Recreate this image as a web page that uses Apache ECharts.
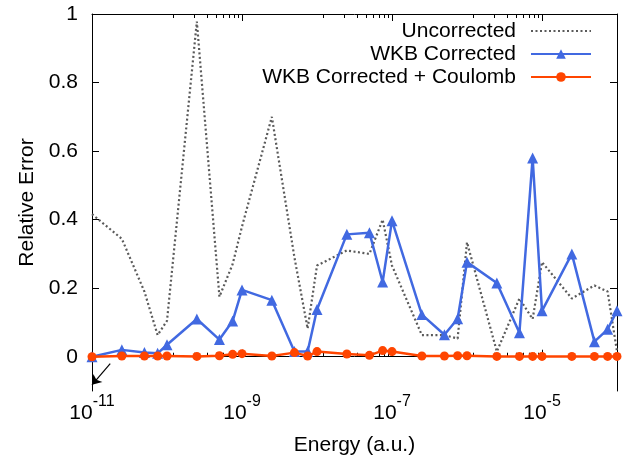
<!DOCTYPE html>
<html>
<head>
<meta charset="utf-8">
<script src="https://cdn.jsdelivr.net/npm/echarts@6/dist/echarts.min.js"></script>
<style>
  html, body { margin: 0; padding: 0; background: #fff; }
  #main { width: 626px; height: 461px; }
</style>
</head>
<body>
<div id="main"></div>
<script>
// 能量点 (a.u.)
var energy = [1e-11, 2.5e-11, 5e-11, 7.5e-11, 1e-10, 2.5e-10, 5e-10, 7.5e-10,
  1e-9, 2.5e-9, 5e-9, 7.5e-9, 1e-8, 2.5e-8, 5e-8, 7.5e-8,
  1e-7, 2.5e-7, 5e-7, 7.5e-7, 1e-6, 2.5e-6, 5e-6, 7.5e-6,
  1e-5, 2.5e-5, 5e-5, 7.5e-5, 1e-4];

var uncorrected = [0.416, 0.344, 0.19, 0.063, 0.105, 0.978, 0.175, 0.27,
  0.38, 0.70, 0.29, 0.082, 0.266, 0.31, 0.30, 0.40,
  0.266, 0.063, 0.063, 0.053, 0.334, 0.015, 0.17, 0.11,
  0.276, 0.17, 0.208, 0.19, 0.015];

var wkb = [0.0, 0.02, 0.012, 0.01, 0.035, 0.11, 0.05, 0.104,
  0.195, 0.165, 0.015, 0.015, 0.138, 0.357, 0.362, 0.218,
  0.397, 0.123, 0.064, 0.111, 0.276, 0.215, 0.07, 0.58,
  0.134, 0.30, 0.044, 0.08, 0.134];

var wkbCoulomb = [0.0, 0.002, 0.002, 0.002, 0.002, 0.001, 0.003, 0.007,
  0.009, 0.002, 0.012, 0.002, 0.015, 0.008, 0.004, 0.018,
  0.015, 0.002, 0.002, 0.003, 0.003, 0.001, 0.001, 0.001,
  0.001, 0.001, 0.001, 0.001, 0.001];

var xMajorTicks = [1e-11, 1e-9, 1e-7, 1e-5];
var yTicks = [0, 0.2, 0.4, 0.6, 0.8, 1];
var seriesNames = ['Uncorrected', 'WKB Corrected', 'WKB Corrected + Coulomb'];

// gnuplot 风格的次刻度: 每两个数量级之间分 9 段
var xMinorTicks = [];
xMajorTicks.forEach(function (a) {
  for (var k = 1; k <= 8; k++) {
    var v = a * (1 + 11 * k);
    if (v < 1e-4) xMinorTicks.push(v);
  }
});

function pairs(ys) {
  return energy.map(function (e, i) { return [e, ys[i]]; });
}

var FONT = 'Liberation Sans, Arial, sans-serif';
var chart = echarts.init(document.getElementById('main'));

function logAxis(opt) {
  return Object.assign({
    type: 'log',
    logBase: 10,
    min: 1e-11,
    max: 1e-4,
    splitLine: { show: false },
    axisLine: { show: false },
    axisLabel: { show: false },
    axisTick: { show: false }
  }, opt);
}

var option = {
  animation: false,
  grid: { left: 92, right: 9, top: 14, bottom: 69, show: false },
  legend: {
    data: [
      { name: seriesNames[0], itemStyle: { color: 'rgba(0,0,0,0)', opacity: 0, borderWidth: 0 } },
      seriesNames[1],
      seriesNames[2]
    ],
    orient: 'vertical',
    align: 'right',
    right: 34,
    top: 20,
    itemWidth: 60,
    itemHeight: 12,
    itemGap: 1,
    padding: 0,
    textStyle: { fontSize: 21, lineHeight: 22, color: '#000', fontFamily: FONT, padding: [0, 10, 0, 0] }
  },
  xAxis: [
    logAxis({
      position: 'bottom',
      name: 'Energy (a.u.)',
      nameLocation: 'middle',
      nameGap: 44,
      nameTextStyle: { fontSize: 21, color: '#000', fontFamily: FONT },
      axisLine: { show: true, lineStyle: { color: '#000', width: 1 } },
      axisTick: { show: true, inside: true, length: 7, customValues: xMajorTicks, lineStyle: { color: '#000', width: 1 } },
      axisLabel: {
        show: true,
        margin: 3,
        customValues: xMajorTicks,
        formatter: function (v) {
          return '{b|10}{s|' + Math.round(Math.log10(v)) + '}';
        },
        rich: {
          b: { fontSize: 21, lineHeight: 30, verticalAlign: 'bottom', color: '#000', fontFamily: FONT },
          s: { fontSize: 16, lineHeight: 30, verticalAlign: 'top', color: '#000', fontFamily: FONT }
        }
      }
    }),
    logAxis({
      position: 'bottom',
      axisTick: { show: true, inside: true, length: 4, customValues: xMinorTicks, lineStyle: { color: '#000', width: 1 } }
    }),
    logAxis({
      position: 'top',
      axisLine: { show: true, lineStyle: { color: '#000', width: 1 } },
      axisTick: { show: true, inside: true, length: 7, customValues: xMajorTicks, lineStyle: { color: '#000', width: 1 } }
    }),
    logAxis({
      position: 'top',
      axisTick: { show: true, inside: true, length: 4, customValues: xMinorTicks, lineStyle: { color: '#000', width: 1 } }
    })
  ],
  yAxis: [
    {
      type: 'value',
      position: 'left',
      min: -0.1,
      max: 1,
      name: 'Relative Error',
      nameLocation: 'middle',
      nameGap: 49,
      nameTextStyle: { fontSize: 21, color: '#000', fontFamily: FONT },
      splitLine: { show: false },
      axisLine: { show: true, lineStyle: { color: '#000', width: 1 } },
      axisTick: { show: true, inside: true, length: 7, customValues: yTicks, lineStyle: { color: '#000', width: 1 } },
      axisLabel: {
        margin: 14,
        customValues: yTicks,
        fontSize: 21,
        color: '#000',
        fontFamily: FONT,
        formatter: function (v) { return String(Math.round(v * 10) / 10); }
      }
    },
    {
      type: 'value',
      position: 'right',
      min: -0.1,
      max: 1,
      splitLine: { show: false },
      axisLine: { show: true, lineStyle: { color: '#000', width: 1 } },
      axisTick: { show: true, inside: true, length: 7, customValues: yTicks, lineStyle: { color: '#000', width: 1 } },
      axisLabel: { show: false }
    }
  ],
  series: [
    {
      name: seriesNames[0],
      type: 'line',
      data: pairs(uncorrected),
      symbol: 'none',
      lineStyle: { color: '#5a5a5a', width: 2.2, type: [2, 2.5] },
      itemStyle: { color: '#5a5a5a' },
      z: 2
    },
    {
      name: seriesNames[1],
      type: 'line',
      data: pairs(wkb),
      symbol: 'triangle',
      symbolSize: 11,
      lineStyle: { color: '#4169E1', width: 2.5 },
      itemStyle: { color: '#4169E1' },
      z: 3
    },
    {
      name: seriesNames[2],
      type: 'line',
      data: pairs(wkbCoulomb),
      symbol: 'circle',
      symbolSize: 9,
      lineStyle: { color: '#FF4500', width: 2.5 },
      itemStyle: { color: '#FF4500' },
      z: 4,
      markLine: {
        silent: true,
        symbol: ['none', 'arrow'],
        symbolSize: 9,
        label: { show: false },
        lineStyle: { color: '#000', width: 1.2, type: 'solid' },
        data: [[{ coord: [1.75e-11, -0.02] }, { coord: [1e-11, -0.082] }]]
      }
    }
  ]
};

chart.setOption(option);
</script>
</body>
</html>
